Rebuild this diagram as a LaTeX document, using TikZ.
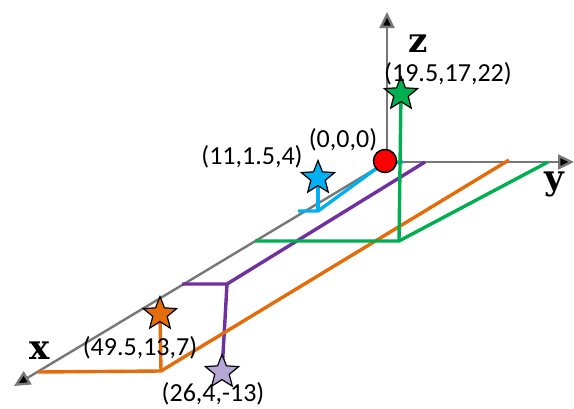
\documentclass[tikz,border=0pt]{standalone}
\usepackage{fontspec}
\newfontfamily\lblfont{Carlito}
\newfontfamily\axfont{DejaVu Serif}
\usetikzlibrary{shapes.geometric,arrows.meta}
\definecolor{cgreen}{HTML}{00B050}
\definecolor{cblue}{HTML}{00B0F0}
\definecolor{corange}{HTML}{E46C0A}
\definecolor{cpurple}{HTML}{7030A0}
\definecolor{clav}{HTML}{B4A7D6}
\definecolor{caxis}{HTML}{777777}
\tikzset{
  axisline/.style={draw=caxis,line width=2.4pt,-{Triangle[length=16pt,width=15pt,fill=black]}},
  path3/.style={line width=3.4pt},
  starnode/.style={star,star points=5,star point ratio=2.3,minimum size=35pt,inner sep=0pt,draw=black,line width=1.2pt},
  coordlbl/.style={font=\lblfont\fontsize{26}{30}\selectfont,inner sep=0pt},
  axlbl/.style={font=\axfont\bfseries\fontsize{34}{40}\selectfont,inner sep=0pt}
}
\begin{document}
\begin{tikzpicture}[x=1pt,y=-1pt]
\useasboundingbox[fill=white] (0,0) rectangle (574,408);
% axes
\coordinate (O) at (387,162);
\coordinate (zt) at (387,12);
\coordinate (yt) at (574,162);
\coordinate (xt) at (14,386);
\draw[axisline] (O) -- (zt);
\draw[axisline] (O) -- (yt);
\draw[axisline] (O) -- (xt);
% blue path
\coordinate (b1) at (298,211);
\coordinate (b2) at (318,211);
\coordinate (b3) at (384,163);
\coordinate (b4) at (403,162);
% purple path
\coordinate (p1) at (425,162);
\coordinate (p2) at (227,284);
\coordinate (p3) at (182,284);
% orange path
\coordinate (o1) at (509,160);
\coordinate (o2) at (161,371);
\coordinate (o3) at (38,372);
% green path
\coordinate (g1) at (548,162);
\coordinate (g2) at (399,241);
\coordinate (g3) at (255,241);
% star positions
\coordinate (gsc) at (401,94);
\coordinate (bsc) at (318,178);
\coordinate (osc) at (160,314);
\coordinate (psc) at (222,372);
\draw[path3,cblue] (b1) -- (b2) -- (b3) -- (b4);
\draw[path3,cblue] (b2) -- (bsc);
\draw[path3,cpurple] (p1) -- (p2) -- (p3);
\draw[path3,cpurple] (p2) -- (psc);
\draw[path3,corange] (o1) -- (o2) -- (o3);
\draw[path3,corange] (o2) -- (osc);
\draw[path3,cgreen] (g1) -- (g2) -- (g3);
\draw[path3,cgreen] (g2) -- (gsc);
% stars on top
\node[starnode,fill=cgreen] (gs) at (gsc) {};
\node[starnode,fill=cblue] (bs) at (bsc) {};
\node[starnode,fill=corange] (os) at (osc) {};
\node[starnode,fill=clav] (ps) at (psc) {};
% origin
\node[circle,fill=red,draw=black,line width=1.5pt,minimum size=23pt,inner sep=0pt] (orig) at (385,161) {};
% labels
\node[coordlbl] (l0) at (343,140) {(0,0,0)};
\node[coordlbl] (lb) at (252,157) {(11,1.5,4)};
\node[coordlbl] (lg) at (448,74) {(19.5,17,22)};
\node[coordlbl] (lo) at (140,348) {(49.5,13,7)};
\node[coordlbl] (lp) at (213,394) {(26,4,-13)};
\node[axlbl] (lz) at (418,44) {z};
\node[axlbl] (ly) at (554,184) {y};
\node[axlbl] (lx) at (40,351) {x};
\end{tikzpicture}
\end{document}
